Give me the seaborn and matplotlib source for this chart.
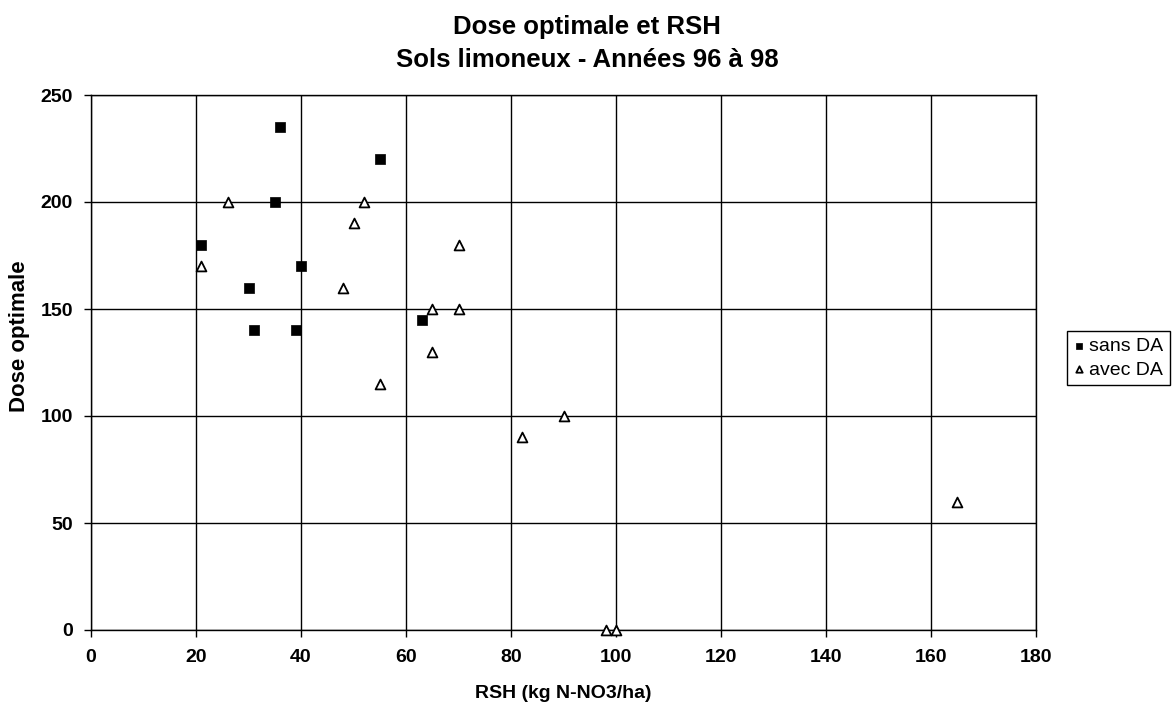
import matplotlib
matplotlib.use("Agg")
import matplotlib.pyplot as plt
import seaborn as sns
import pandas as pd

sans_rsh = [36, 55, 35, 21, 40, 30, 31, 39, 63]
sans_dose = [235, 220, 200, 180, 170, 160, 140, 140, 145]
avec_rsh = [26, 52, 50, 21, 48, 65, 65, 55, 70, 70, 82, 90, 98, 100, 165]
avec_dose = [200, 200, 190, 170, 160, 150, 130, 115, 180, 150, 90, 100, 0, 0, 60]
x_ticks = [0, 20, 40, 60, 80, 100, 120, 140, 160, 180]
y_ticks = [0, 50, 100, 150, 200, 250]

sns.set_theme(style="white")
plt.rcParams['font.family'] = ['Liberation Sans', 'DejaVu Sans']
plt.rcParams.update({"text.color": "black", "axes.labelcolor": "black",
                     "xtick.color": "black", "ytick.color": "black"})

W, H = 1173, 706
fig = plt.figure(figsize=(W/100, H/100), dpi=100)
ax = fig.add_axes([91/W, 1-630/H, (1036-91)/W, (630-95)/H])

df_s = pd.DataFrame({"RSH": sans_rsh, "Dose": sans_dose})
df_a = pd.DataFrame({"RSH": avec_rsh, "Dose": avec_dose})

sns.scatterplot(data=df_s, x="RSH", y="Dose", ax=ax, marker="s", s=45,
                color="black", edgecolor="black", linewidth=0.5, label="sans DA", zorder=3, clip_on=False)
sns.scatterplot(data=df_a, x="RSH", y="Dose", ax=ax, marker="^", s=50,
                facecolor="white", edgecolor="black", linewidth=1.3, label="avec DA", zorder=3, clip_on=False)

ax.set_xlim(0, 180)
ax.set_ylim(0, 250)
ax.set_xticks(x_ticks)
ax.set_yticks(y_ticks)
ax.grid(True, color="black", linewidth=1.0)
ax.set_axisbelow(True)
for sp in ax.spines.values():
    sp.set_color("black")
    sp.set_linewidth(1.0)
ax.tick_params(axis="both", direction="out", length=5, width=1, color="black",
               labelcolor="black", labelsize=14, left=True, bottom=True)
ax.tick_params(axis="x", pad=9)
ax.tick_params(axis="y", pad=8)
for lab in ax.get_xticklabels() + ax.get_yticklabels():
    lab.set_fontweight("bold")

ax.set_xlabel("RSH (kg N-NO3/ha)", fontsize=14, fontweight="bold", va="center", color="black")
ax.xaxis.set_label_coords(0.5, (630-694)/535)
ax.set_ylabel("Dose optimale", fontsize=16, fontweight="bold", va="center", color="black")
ax.yaxis.set_label_coords((20-91)/945, (630-336)/535)

fig.text(587/W, 1-27/H, "Dose optimale et RSH", fontsize=18.5, fontweight="bold",
         ha="center", va="center", color="black")
fig.text(587/W, 1-60/H, "Sols limoneux - Années 96 à 98", fontsize=18.5, fontweight="bold",
         ha="center", va="center", color="black")

if ax.legend_:
    ax.legend_.remove()
h, l = ax.get_legend_handles_labels()
leg = fig.legend(h, l, loc="center left", bbox_to_anchor=(1067/W, 1-358/H), fontsize=14,
                 frameon=True, fancybox=False, edgecolor="black", framealpha=1,
                 handletextpad=0.25, handlelength=0.55, borderpad=0.35, labelspacing=0.3,
                 borderaxespad=0, markerscale=0.65, labelcolor="black")
leg.get_frame().set_linewidth(1.0)

fig.savefig("out.png", dpi=100)
